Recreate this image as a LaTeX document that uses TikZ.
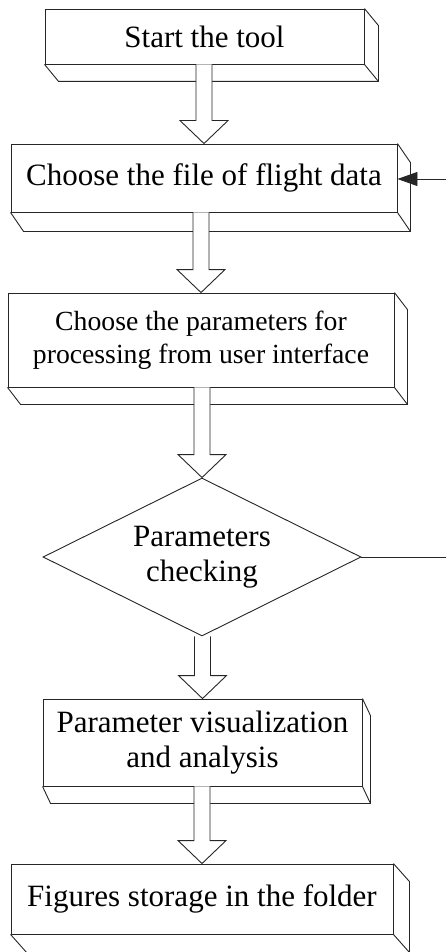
\documentclass[tikz,border=0pt]{standalone}
\usepackage{fontspec}
\setmainfont{Liberation Serif}
\usetikzlibrary{shapes.geometric,arrows.meta,calc}

\tikzset{
  line/.style={draw=black!85, line width=0.9pt},
  stepbox/.style={line, rectangle, fill=white, inner sep=0pt, align=center,
    font=\fontsize{31}{35.5}\selectfont},
  decision/.style={line, diamond, fill=white, inner sep=0pt, aspect=2, align=center,
    font=\fontsize{31}{35.5}\selectfont},
  blockarr/.style={line, fill=white, line join=miter},
  feedback/.style={line, -{Triangle[length=20pt,width=14pt]}},
}

% bottom and right faces of a raised box
\newcommand{\extrude}[3]{%
  \draw[line] (#1.south west) -- ++(#2pt,-#3pt) -| ($(#1.north east)+(#2pt,-#3pt)$) -- (#1.north east);
  \draw[line] (#1.south east) -- ++(#2pt,-#3pt);}

% hollow block arrow from the bottom of one shape to the top of the next
\newcommand{\flowarrow}[2]{%
  \filldraw[blockarr] let \p1=(#1.south), \p2=(#2.north) in
    (\x2-8pt,\y1) -- (\x2-8pt,\y2+23pt) -- (\x2-24pt,\y2+23pt) -- (\x2,\y2)
    -- (\x2+24pt,\y2+23pt) -- (\x2+8pt,\y2+23pt) -- (\x2+8pt,\y1);}

\begin{document}
\begin{tikzpicture}[x=1pt,y=-1pt]
\useasboundingbox (0,0) rectangle (446,952);

\node[stepbox, minimum width=319pt, minimum height=55pt] (start) at (204.5,36.5) {Start the tool};
\extrude{start}{14}{17}

\node[stepbox, minimum width=386pt, minimum height=68pt] (file) at (204,178) {Choose the file of flight data};
\extrude{file}{13}{19}

\node[stepbox, minimum width=386pt, minimum height=94pt, font=\fontsize{27.7}{33}\selectfont] (params) at (201,340)
  {Choose the parameters for\\processing from user interface};
\extrude{params}{13}{17}

\node[decision, minimum width=318pt, minimum height=158pt] (check) at (202,557) {Parameters\\checking};

\node[stepbox, minimum width=319pt, minimum height=87pt] (visual) at (202.5,742.5) {Parameter visualization\\and analysis};
\extrude{visual}{8}{17}

\node[stepbox, minimum width=382pt, minimum height=70pt] (store) at (202,899) {Figures storage in the folder};
\extrude{store}{16}{18}

\flowarrow{start}{file}
\flowarrow{file}{params}
\flowarrow{params}{check}
\flowarrow{check}{visual}
\flowarrow{visual}{store}

% loop back from the check to the file choice
\coordinate (loopout) at (447,557);
\coordinate (loopin) at (447,179);
\draw[line] (check.east) -- (loopout);
\draw[feedback] (loopin) -- (file.east |- loopin);
\end{tikzpicture}
\end{document}
